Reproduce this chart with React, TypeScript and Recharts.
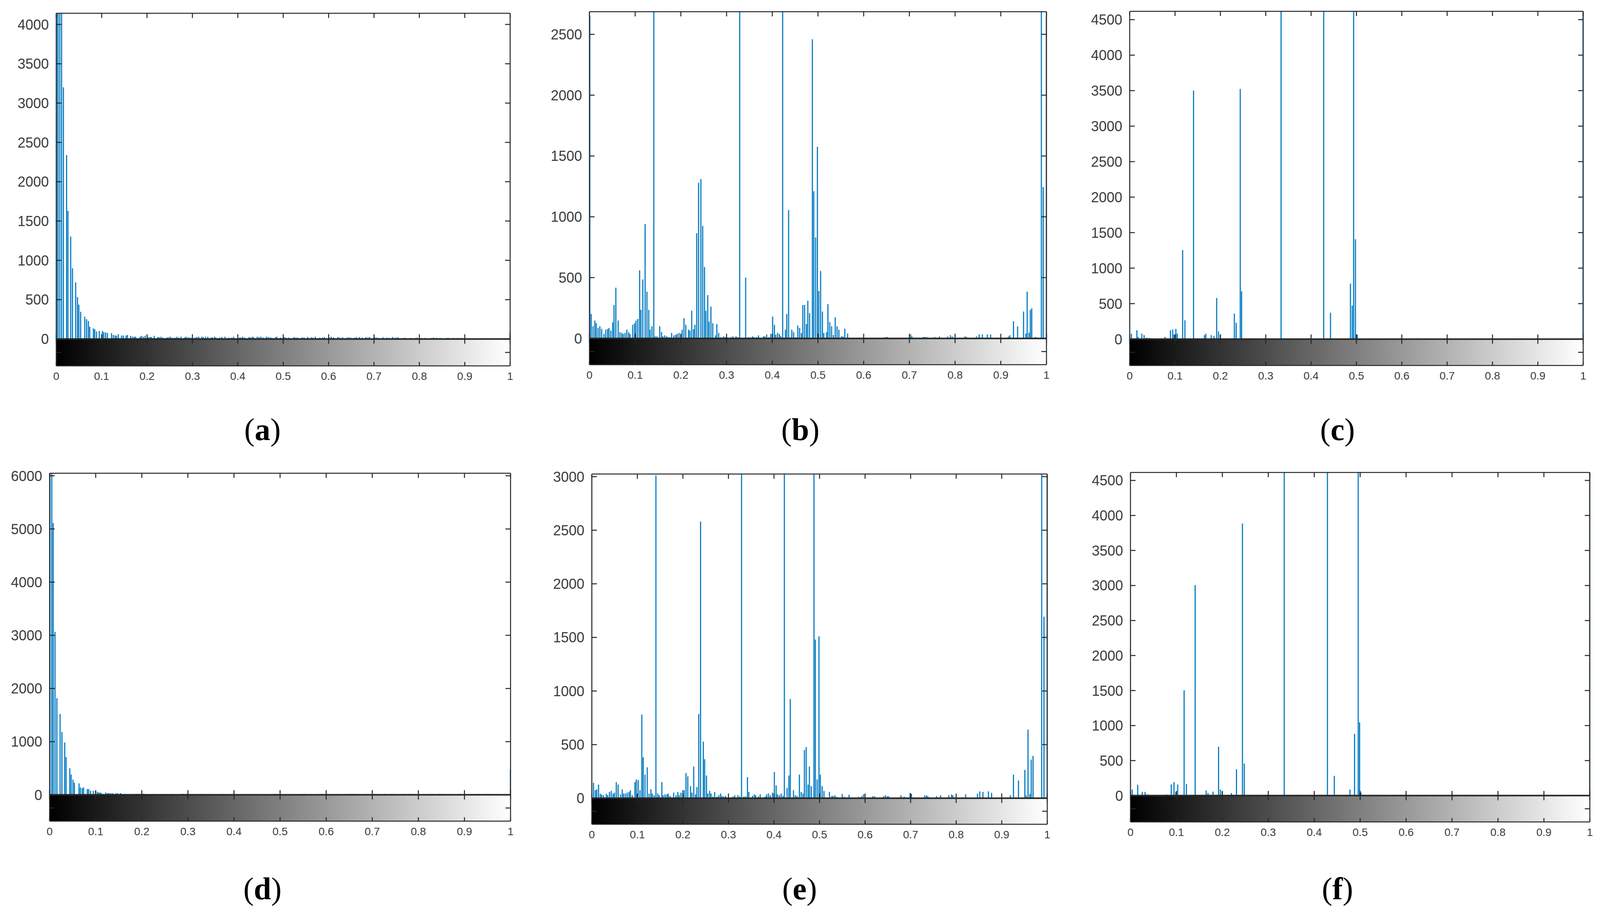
import { BarChart, Bar, XAxis, YAxis, ReferenceArea, ReferenceLine } from "recharts";

const BAR_COLOR = "#0b7fc4";
const INK = "#262626";
const LABEL = "#3c3c3c";
const SANS = "'Liberation Sans', Arial, sans-serif";

// the browser window is 4096 wide, not 4328, so horizontal layout is squeezed to fit
const PAGE_W = 4096;
const PAGE_H = 2328;
const SX = PAGE_W / 4328;

const xTicks = [0, 0.1, 0.2, 0.3, 0.4, 0.5, 0.6, 0.7, 0.8, 0.9, 1];

// histogram bins (grey level) and counts for each panel
// bins stay at least 0.003 apart: recharts shrinks a fixed barSize to the smallest gap
const aBins = [
  0.001, 0.004, 0.008, 0.012, 0.016, 0.023, 0.026, 0.032, 0.036, 0.043,
  0.047, 0.05, 0.054, 0.063, 0.067, 0.071, 0.074, 0.082, 0.085, 0.089,
  0.095, 0.102, 0.105, 0.109, 0.113, 0.122, 0.126, 0.13, 0.133, 0.137,
  0.144, 0.148, 0.154, 0.157, 0.164, 0.168, 0.172, 0.175, 0.185, 0.188,
  0.192, 0.196, 0.203, 0.207, 0.21, 0.216, 0.224, 0.227, 0.231, 0.235,
  0.244, 0.247, 0.251, 0.255, 0.262, 0.266, 0.27, 0.275, 0.283, 0.286,
  0.29, 0.294, 0.299, 0.306, 0.31, 0.314, 0.321, 0.324, 0.329, 0.334,
  0.341, 0.344, 0.349, 0.352, 0.36, 0.365, 0.372, 0.38, 0.387, 0.391,
  0.404, 0.407, 0.411, 0.415, 0.425, 0.428, 0.432, 0.435, 0.443, 0.447,
  0.451, 0.456, 0.463, 0.467, 0.471, 0.475, 0.483, 0.486, 0.494, 0.502,
  0.506, 0.512, 0.524, 0.528, 0.532, 0.542, 0.546, 0.554, 0.562, 0.566,
  0.571, 0.581, 0.587, 0.591, 0.602, 0.606, 0.611, 0.621, 0.625, 0.631,
  0.641, 0.645, 0.649, 0.658, 0.662, 0.668, 0.674, 0.682, 0.686, 0.69,
  0.702, 0.706, 0.71, 0.72, 0.728, 0.733, 0.741, 0.745, 0.749, 0.753,
  0.766, 0.769, 0.781, 0.791, 0.795, 0.805, 0.812, 0.828, 0.832, 0.838,
  0.846, 0.86, 0.864, 0.87, 0.876, 0.884, 0.892, 0.901, 0.911, 1,
];
const aCounts = [
  6000, 6000, 6000, 6000, 3200, 2338, 1629, 1302, 898, 720,
  531, 436, 345, 284, 251, 229, 156, 135, 124, 95,
  102, 102, 84, 84, 76, 73, 51, 47, 40, 62,
  44, 44, 44, 51, 40, 29, 29, 29, 29, 40,
  29, 40, 25, 25, 25, 40, 25, 22, 29, 18,
  18, 22, 29, 18, 18, 29, 18, 29, 18, 29,
  22, 18, 18, 18, 25, 29, 29, 22, 29, 29,
  18, 22, 29, 18, 18, 25, 29, 18, 18, 29,
  18, 18, 29, 18, 25, 18, 29, 22, 29, 25,
  29, 18, 29, 25, 18, 18, 22, 29, 18, 25,
  18, 18, 25, 18, 18, 22, 18, 25, 22, 18,
  29, 18, 18, 25, 18, 29, 22, 25, 18, 22,
  18, 22, 18, 18, 22, 25, 18, 22, 18, 25,
  22, 18, 14, 22, 18, 14, 25, 14, 18, 22,
  14, 14, 14, 14, 18, 14, 14, 14, 18, 14,
  14, 14, 14, 10, 14, 14, 14, 10, 10, 100,
];

const bBins = [
  0.001, 0.004, 0.008, 0.012, 0.015, 0.019, 0.023, 0.027, 0.032, 0.036,
  0.04, 0.043, 0.047, 0.051, 0.054, 0.058, 0.063, 0.067, 0.071, 0.074,
  0.078, 0.082, 0.086, 0.089, 0.095, 0.099, 0.102, 0.106, 0.11, 0.113,
  0.117, 0.122, 0.126, 0.13, 0.133, 0.137, 0.141, 0.144, 0.148, 0.154,
  0.158, 0.161, 0.165, 0.169, 0.172, 0.176, 0.18, 0.185, 0.189, 0.192,
  0.196, 0.2, 0.203, 0.207, 0.211, 0.217, 0.22, 0.224, 0.228, 0.231,
  0.235, 0.239, 0.244, 0.248, 0.252, 0.255, 0.259, 0.262, 0.266, 0.27,
  0.276, 0.279, 0.283, 0.287, 0.294, 0.298, 0.301, 0.31, 0.314, 0.321,
  0.325, 0.329, 0.342, 0.349, 0.357, 0.36, 0.366, 0.37, 0.381, 0.384,
  0.388, 0.392, 0.397, 0.401, 0.405, 0.408, 0.412, 0.416, 0.419, 0.423,
  0.429, 0.432, 0.436, 0.44, 0.443, 0.447, 0.451, 0.456, 0.46, 0.464,
  0.467, 0.471, 0.475, 0.478, 0.482, 0.488, 0.491, 0.495, 0.499, 0.502,
  0.506, 0.51, 0.513, 0.519, 0.522, 0.526, 0.53, 0.534, 0.538, 0.542,
  0.546, 0.552, 0.555, 0.559, 0.565, 0.648, 0.652, 0.703, 0.706, 0.731,
  0.734, 0.738, 0.756, 0.766, 0.784, 0.79, 0.794, 0.822, 0.825, 0.847,
  0.853, 0.86, 0.871, 0.878, 0.917, 0.92, 0.928, 0.937, 0.95, 0.955,
  0.958, 0.962, 0.965, 0.968, 0.976, 0.989, 0.993, 1,
];
const bCounts = [
  2650, 201, 100, 147, 125, 86, 100, 78, 37, 72,
  77, 86, 64, 132, 275, 417, 147, 52, 45, 37,
  45, 72, 52, 37, 112, 125, 147, 160, 560, 235,
  485, 940, 384, 235, 72, 100, 9000, 17, 17, 100,
  52, 17, 25, 17, 10, 10, 45, 25, 30, 37,
  45, 37, 72, 166, 112, 72, 64, 228, 77, 112,
  865, 1280, 1310, 925, 587, 228, 356, 139, 262, 125,
  25, 118, 45, 10, 17, 10, 10, 10, 17, 17,
  10, 9000, 500, 10, 17, 10, 10, 25, 17, 17,
  32, 10, 37, 180, 112, 30, 45, 37, 17, 9000,
  72, 201, 1055, 10, 72, 52, 10, 106, 86, 45,
  275, 275, 118, 310, 208, 2460, 1210, 830, 1575, 390,
  554, 221, 45, 52, 282, 134, 99, 28, 174, 99,
  71, 16, 16, 80, 40, 12, 12, 33, 16, 12,
  12, 12, 12, 16, 16, 26, 16, 16, 12, 16,
  33, 33, 33, 33, 16, 26, 141, 99, 221, 40,
  384, 47, 235, 247, 12, 9000, 1245, 2650,
];

const cBins = [
  0, 0.004, 0.008, 0.016, 0.019, 0.027, 0.032, 0.037, 0.04, 0.044,
  0.078, 0.082, 0.085, 0.09, 0.095, 0.098, 0.102, 0.105, 0.117, 0.122,
  0.141, 0.165, 0.168, 0.18, 0.186, 0.192, 0.196, 0.2, 0.231, 0.235,
  0.244, 0.247, 0.334, 0.428, 0.443, 0.487, 0.491, 0.494, 0.498, 0.502,
  1,
];
const cCounts = [
  3846, 77, 12, 125, 32, 77, 56, 20, 16, 16,
  32, 12, 12, 125, 137, 65, 145, 77, 1254, 266,
  3500, 56, 77, 56, 44, 580, 109, 65, 359, 230,
  3524, 673, 9000, 9000, 371, 782, 472, 9000, 1407, 65,
  9000,
];

const dBins = [
  0.001, 0.005, 0.008, 0.012, 0.016, 0.023, 0.027, 0.033, 0.036, 0.044,
  0.047, 0.051, 0.054, 0.064, 0.067, 0.071, 0.074, 0.082, 0.085, 0.089,
  0.095, 0.1, 0.104, 0.107, 0.11, 0.113, 0.122, 0.126, 0.129, 0.133,
  0.137, 0.144, 0.148, 0.154, 0.157, 0.164, 0.168, 0.176, 0.185, 0.189,
  0.192, 0.196, 0.203, 0.206, 0.224, 0.251, 0.266, 0.287, 0.29, 0.299,
  0.306, 0.321, 0.329, 0.334, 0.345, 0.373, 0.488, 0.491, 0.551, 0.554,
  0.565, 0.585, 0.589, 0.592, 0.603, 0.62, 0.624, 0.627, 0.642, 0.645,
  0.651, 0.655, 0.659, 0.662, 0.666, 0.672, 0.684, 0.69, 0.705, 0.709,
  0.715, 0.727, 0.73, 0.743, 0.752, 0.768, 0.773, 0.781, 0.785, 0.793,
  0.812, 0.822, 0.828, 0.833, 0.843, 0.847, 0.853, 0.868, 0.888, 0.892,
  0.9, 0.903, 0.913, 0.927, 0.93, 0.934, 0.947, 0.951, 0.954, 0.964,
  0.974, 1,
];
const dCounts = [
  7000, 7000, 5112, 3064, 1817, 1521, 1183, 984, 710, 500,
  382, 285, 226, 215, 140, 124, 140, 108, 108, 75,
  75, 70, 54, 43, 43, 32, 43, 32, 32, 32,
  32, 32, 32, 32, 18, 18, 16, 16, 18, 18,
  16, 18, 20, 16, 16, 16, 16, 16, 18, 20,
  16, 16, 18, 16, 16, 16, 16, 18, 16, 16,
  14, 16, 16, 18, 16, 14, 16, 16, 16, 14,
  16, 16, 16, 18, 16, 16, 16, 16, 18, 16,
  14, 16, 16, 16, 14, 16, 16, 18, 16, 16,
  14, 16, 16, 16, 16, 18, 14, 14, 16, 16,
  20, 16, 14, 16, 16, 14, 16, 16, 14, 14,
  14, 480,
];

const eBins = [
  0, 0.004, 0.008, 0.011, 0.015, 0.019, 0.022, 0.026, 0.032, 0.035,
  0.039, 0.043, 0.047, 0.05, 0.054, 0.058, 0.063, 0.067, 0.07, 0.074,
  0.078, 0.082, 0.085, 0.089, 0.095, 0.098, 0.102, 0.106, 0.11, 0.113,
  0.117, 0.122, 0.126, 0.13, 0.133, 0.137, 0.141, 0.145, 0.148, 0.154,
  0.157, 0.161, 0.165, 0.168, 0.172, 0.18, 0.185, 0.189, 0.192, 0.196,
  0.2, 0.203, 0.207, 0.211, 0.217, 0.22, 0.224, 0.228, 0.231, 0.235,
  0.239, 0.245, 0.248, 0.252, 0.255, 0.259, 0.262, 0.266, 0.27, 0.275,
  0.279, 0.283, 0.286, 0.29, 0.294, 0.31, 0.314, 0.321, 0.325, 0.329,
  0.334, 0.338, 0.342, 0.345, 0.353, 0.357, 0.36, 0.366, 0.37, 0.381,
  0.384, 0.388, 0.392, 0.397, 0.401, 0.405, 0.408, 0.412, 0.416, 0.42,
  0.423, 0.429, 0.433, 0.436, 0.443, 0.447, 0.451, 0.456, 0.46, 0.464,
  0.467, 0.471, 0.475, 0.478, 0.482, 0.488, 0.491, 0.495, 0.499, 0.502,
  0.506, 0.51, 0.522, 0.527, 0.53, 0.534, 0.538, 0.55, 0.554, 0.565,
  0.586, 0.593, 0.597, 0.617, 0.621, 0.641, 0.645, 0.649, 0.652, 0.679,
  0.686, 0.699, 0.702, 0.731, 0.735, 0.738, 0.757, 0.766, 0.784, 0.79,
  0.793, 0.821, 0.847, 0.852, 0.859, 0.871, 0.878, 0.919, 0.926, 0.937,
  0.951, 0.954, 0.958, 0.962, 0.965, 0.969, 0.988, 0.993, 1,
];
const eCounts = [
  3000, 143, 75, 83, 127, 42, 34, 28, 42, 28,
  58, 68, 42, 52, 150, 127, 36, 83, 44, 44,
  52, 58, 75, 28, 150, 176, 168, 75, 780, 382,
  220, 288, 42, 83, 44, 28, 3010, 44, 28, 150,
  28, 36, 36, 44, 22, 52, 28, 58, 28, 52,
  75, 75, 235, 204, 113, 52, 295, 36, 104, 785,
  2580, 528, 364, 212, 44, 68, 44, 16, 58, 16,
  28, 44, 22, 16, 22, 16, 28, 28, 16, 9000,
  16, 16, 197, 58, 22, 36, 28, 16, 36, 16,
  36, 44, 28, 52, 244, 120, 36, 28, 44, 22,
  9000, 97, 212, 925, 75, 28, 22, 220, 58, 44,
  450, 477, 127, 295, 113, 9000, 1480, 175, 1510, 220,
  113, 68, 59, 21, 21, 27, 12, 40, 14, 32,
  14, 21, 37, 19, 19, 19, 27, 19, 19, 27,
  14, 50, 40, 27, 27, 19, 19, 27, 27, 35,
  27, 37, 43, 64, 59, 64, 50, 27, 219, 165,
  264, 27, 640, 40, 360, 395, 9000, 1694, 3000,
];

const fBins = [
  0, 0.004, 0.008, 0.016, 0.019, 0.026, 0.032, 0.035, 0.039, 0.079,
  0.089, 0.095, 0.099, 0.103, 0.117, 0.122, 0.141, 0.165, 0.169, 0.18,
  0.192, 0.196, 0.2, 0.22, 0.231, 0.244, 0.248, 0.335, 0.429, 0.444,
  0.478, 0.488, 0.496, 0.499, 0.502, 1,
];
const fCounts = [
  3480, 86, 12, 155, 12, 53, 53, 16, 16, 16,
  159, 192, 53, 159, 1503, 167, 3006, 73, 37, 57,
  698, 86, 57, 37, 376, 3885, 457, 9000, 9000, 282,
  86, 882, 9000, 1046, 45, 9000,
];

const ticks500 = (max: number) => {
  const out = [];
  for (let v = 0; v <= max; v += 500) out.push(v);
  return out;
};

const panels = [
  { id: "a", bins: aBins, counts: aCounts, yMin: -342, yMax: 4142, yTicks: ticks500(4000), left: 152, right: 1380, top: 34, bottom: 937, capX: 710, capY: 1100 },
  { id: "b", bins: bBins, counts: bCounts, yMin: -216, yMax: 2686, yTicks: ticks500(2500), left: 1594, right: 2831, top: 30, bottom: 934, capX: 2165, capY: 1100 },
  { id: "c", bins: cBins, counts: cCounts, yMin: -371, yMax: 4617, yTicks: ticks500(4500), left: 3056, right: 4283, top: 29, bottom: 936, capX: 3618, capY: 1100 },
  { id: "d", bins: dBins, counts: dCounts, yMin: -495, yMax: 6048, yTicks: [0, 1000, 2000, 3000, 4000, 5000, 6000], left: 134, right: 1381, top: 1212, bottom: 2103, capX: 710, capY: 2276 },
  { id: "e", bins: eBins, counts: eCounts, yMin: -243, yMax: 3024, yTicks: ticks500(3000), left: 1601, right: 2833, top: 1214, bottom: 2111, capX: 2163, capY: 2276 },
  { id: "f", bins: fBins, counts: fCounts, yMin: -376, yMax: 4614, yTicks: ticks500(4500), left: 3058, right: 4300, top: 1210, bottom: 2105, capX: 3618, capY: 2276 },
];

const PAD_LEFT = 100;
const PAD_TOP = 28;
const PAD_RIGHT = 24;
const PAD_BOTTOM = 60;

function Panel({ p }: { p: (typeof panels)[number] }) {
  const left = Math.round(p.left * SX);
  const plotW = Math.round(p.right * SX) - left;
  const plotH = p.bottom - p.top;
  const zeroUp = (plotH * -p.yMin) / (p.yMax - p.yMin); // px from frame bottom up to y=0
  const rows = p.bins.map((x, i) => ({ x, count: p.counts[i] }));
  const gradId = `greyRamp-${p.id}`;
  // the colour bar gets one extra unlabelled tick halfway down
  const yTicks = [p.yMin / 2, ...p.yTicks];

  const leftTick = ({ x, y, payload }: any) => (
    <g>
      <line x1={x} x2={x + 13} y1={y} y2={y} stroke={INK} strokeWidth={2.5} />
      {payload.value >= 0 && (
        <text x={x - 19} y={y} dy={13} textAnchor="end" fontSize={36} fontFamily={SANS} fill={LABEL}>
          {payload.value}
        </text>
      )}
    </g>
  );
  const rightTick = ({ x, y }: any) => (
    <line x1={x} x2={x - 13} y1={y} y2={y} stroke={INK} strokeWidth={2.5} />
  );
  const bottomTick = ({ x, y, payload }: any) => (
    <g>
      <line x1={x} x2={x} y1={y} y2={y - 10} stroke={INK} strokeWidth={2.5} />
      <line x1={x} x2={x} y1={y - zeroUp - 12} y2={y - zeroUp + 12} stroke={INK} strokeWidth={2.5} />
      <text x={x} y={y} dy={36} textAnchor="middle" fontSize={28} fontFamily={SANS} fill={LABEL}>
        {payload.value}
      </text>
    </g>
  );
  const topTick = ({ x, y }: any) => (
    <line x1={x} x2={x} y1={y} y2={y + 12} stroke={INK} strokeWidth={2.5} />
  );

  return (
    <div style={{ position: "absolute", left: left - PAD_LEFT, top: p.top - PAD_TOP }}>
      <BarChart
        width={plotW + PAD_LEFT + PAD_RIGHT}
        height={plotH + PAD_TOP + PAD_BOTTOM}
        data={rows}
        margin={{ top: PAD_TOP, right: PAD_RIGHT, bottom: 0, left: 0 }}
      >
        <defs>
          <linearGradient id={gradId} x1="0" x2="1" y1="0" y2="0">
            <stop offset="0" stopColor="#000" />
            <stop offset="1" stopColor="#fff" />
          </linearGradient>
        </defs>
        <XAxis
          dataKey="x"
          type="number"
          domain={[0, 1]}
          ticks={xTicks}
          interval={0}
          height={PAD_BOTTOM}
          allowDataOverflow
          stroke={INK}
          strokeWidth={2.5}
          tickLine={false}
          tickSize={0}
          tickMargin={0}
          tick={bottomTick}
        />
        <XAxis
          xAxisId="top"
          dataKey="x"
          orientation="top"
          type="number"
          domain={[0, 1]}
          ticks={xTicks}
          interval={0}
          mirror
          allowDataOverflow
          stroke={INK}
          strokeWidth={2.5}
          tickLine={false}
          tickSize={0}
          tickMargin={0}
          tick={topTick}
        />
        <YAxis
          type="number"
          domain={[p.yMin, p.yMax]}
          ticks={yTicks}
          interval={0}
          width={PAD_LEFT}
          allowDataOverflow
          stroke={INK}
          strokeWidth={2.5}
          tickLine={false}
          tickSize={0}
          tickMargin={0}
          tick={leftTick}
        />
        <YAxis
          yAxisId="right"
          orientation="right"
          type="number"
          domain={[p.yMin, p.yMax]}
          ticks={yTicks}
          interval={0}
          mirror
          allowDataOverflow
          stroke={INK}
          strokeWidth={2.5}
          tickLine={false}
          tickSize={0}
          tickMargin={0}
          tick={rightTick}
        />
        <Bar dataKey="count" fill={BAR_COLOR} barSize={3} isAnimationActive={false} />
        <ReferenceArea x1={0} x2={1} y1={p.yMin} y2={0} fill={`url(#${gradId})`} fillOpacity={1} stroke="none" />
        <ReferenceLine y={0} stroke={INK} strokeWidth={4} />
      </BarChart>
    </div>
  );
}

export default function App() {
  return (
    <div style={{ position: "absolute", left: 0, top: 0, width: PAGE_W, height: PAGE_H, background: "#fff", overflow: "hidden" }}>
      {panels.map((p) => (
        <Panel key={p.id} p={p} />
      ))}
      {panels.map((p) => (
        <div
          key={p.id}
          style={{
            position: "absolute",
            left: Math.round(p.capX * SX) - 100,
            width: 200,
            top: p.capY - 50,
            height: 100,
            lineHeight: "100px",
            textAlign: "center",
            fontFamily: "'Liberation Serif', serif",
            fontSize: 80,
            color: "#000",
          }}
        >
          (<b>{p.id}</b>)
        </div>
      ))}
    </div>
  );
}
